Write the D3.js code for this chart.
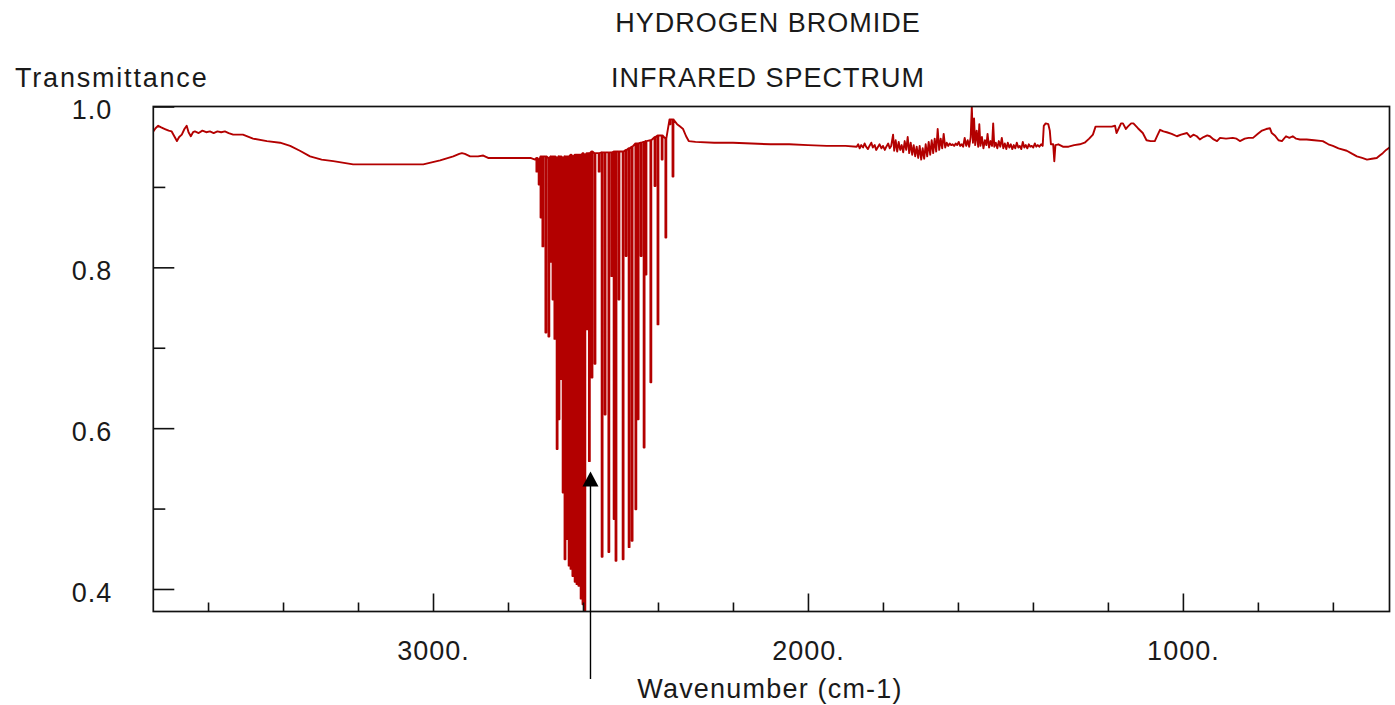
<!DOCTYPE html>
<html><head><meta charset="utf-8">
<script src="https://cdn.jsdelivr.net/npm/d3@7"></script>
<style>
html,body{margin:0;padding:0;background:#fff;}
svg{display:block;}
text{font-family:"Liberation Sans",Arial,sans-serif;fill:#1a1a1a;}
</style></head><body>
<svg id="chart" width="1395" height="705"></svg>
<script>
// ---- data (wavenumber in cm-1, transmittance) ----
const leftWn = [3746,3740,3733,3725,3715,3705,3697,3690,3683,3677,3670,3663,3657,3652,3646,3640,3635,3625,3615,3605,3595,3585,3575,3565,3555,3545,3533,3507,3480,3443,3408,3381,3355,3328,3297,3266,3213,3120,3026,2981,2946,2930,2923,2915,2901,2880,2866,2853,2800,2740,2728];
const leftT  = [0.969,0.973,0.976,0.974,0.972,0.970,0.969,0.963,0.957,0.962,0.965,0.972,0.976,0.968,0.963,0.968,0.969,0.967,0.970,0.968,0.969,0.967,0.969,0.968,0.969,0.967,0.965,0.965,0.960,0.957,0.955,0.951,0.945,0.938,0.934,0.932,0.928,0.928,0.928,0.933,0.938,0.941,0.942,0.941,0.938,0.938,0.939,0.936,0.936,0.936,0.934];

// HBr fundamental band: rotational lines (centre, local top, line minimum)
const bandWn     = [2723,2717,2712,2707,2699,2691,2685,2680,2675,2669,2664,2659,2653,2648,2643,2637,2632,2627,2621,2616,2611,2605,2600,2595,2589,2583,2576,2568,2557,2549,2541,2531,2523,2517,2512,2504,2493,2485,2477,2469,2459,2453,2445,2437,2432,2419,2408,2400,2389,2379,2368,2360];
const bandTop    = [0.936,0.934,0.938,0.938,0.938,0.936,0.938,0.938,0.938,0.936,0.938,0.938,0.936,0.938,0.938,0.938,0.940,0.938,0.940,0.940,0.940,0.940,0.942,0.940,0.942,0.942,0.944,0.942,0.942,0.943,0.943,0.943,0.943,0.944,0.944,0.944,0.944,0.946,0.948,0.950,0.954,0.954,0.955,0.956,0.957,0.958,0.962,0.964,0.964,0.960,0.984,0.984];
const bandBottom = [0.919,0.903,0.862,0.826,0.719,0.714,0.807,0.760,0.711,0.574,0.611,0.661,0.520,0.437,0.462,0.429,0.425,0.416,0.409,0.406,0.404,0.388,0.381,0.373,0.723,0.559,0.663,0.680,0.919,0.440,0.617,0.446,0.789,0.487,0.435,0.760,0.437,0.814,0.452,0.460,0.499,0.611,0.814,0.576,0.791,0.657,0.901,0.729,0.934,0.837,0.978,0.913];

const rightWn = [2356,2349,2341,2333,2325,2318,2300,2250,2200,2150,2100,2050,2000,1950,1900,1870,
 1866,1862,1858,1853,1849,1845,1840,1836,1831,1827,1822,1818,1813,1809,1804,1800,1795,1791,1786,1782,1778,1773,1770,1766,1762,1758,1754,1750,1746,1742,1738,1734,1730,1726,1722,1718,1714,1710,1706,1702,1698,1694,1690,1686,1682,1678,1674,1670,1666,1662,1658,1654,1650,1646,1642,1638,1634,1630,1626,1622,1618,1614,1610,1606,1602,1598,1594,1590,1586,1582,1578,1574,1570,1566,1563,1560,1557,1554,1550,1546,1543,1540,1536,1532,1528,1524,1521,1517,1513,1509,1506,1503,1499,1495,1491,1487,1483,1479,1475,1471,1467,1463,1459,1455,1451,1447,1443,1439,1435,1431,1427,1423,1419,1415,1411,1407,1403,1399,1395,1391,1387,1383,1378,1374,
 1371,1366,1359,1355,1352,1346,1343,1340,1332,1320,1305,1290,1275,1262,1250,1240,1233,1221,1190,1181,1177,1172,1165,1160,1152,1147,1138,1132,1120,1107,1097,1086,1075,1068,1061,1052,1043,1030,1016,1005,989,980,972,963,955,945,935,928,918,909,901,885,867,857,848,835,825,813,800,789,778,768,763,755,745,736,725,716,707,698,688,670,650,627,612,600,585,563,548,536,522,509,496,483,475,467,458,449];
const rightT = [0.982,0.978,0.975,0.972,0.963,0.957,0.956,0.955,0.955,0.954,0.953,0.953,0.952,0.951,0.951,0.950,
 0.953,0.948,0.952,0.949,0.954,0.950,0.947,0.951,0.955,0.949,0.952,0.946,0.950,0.953,0.948,0.951,0.946,0.950,0.954,0.948,0.951,0.965,0.945,0.958,0.944,0.956,0.946,0.952,0.943,0.957,0.946,0.962,0.942,0.955,0.940,0.952,0.938,0.950,0.936,0.951,0.934,0.948,0.935,0.953,0.938,0.956,0.940,0.958,0.942,0.960,0.944,0.972,0.946,0.960,0.948,0.966,0.949,0.955,0.951,0.954,0.952,0.953,0.951,0.954,0.952,0.956,0.951,0.953,0.950,0.961,0.951,0.958,0.950,0.962,1.000,0.955,0.985,0.952,0.970,0.950,0.978,0.951,0.962,0.948,0.958,0.952,0.966,0.949,0.957,0.951,0.979,0.950,0.955,0.948,0.957,0.950,0.961,0.948,0.954,0.947,0.955,0.949,0.953,0.947,0.952,0.948,0.955,0.949,0.951,0.947,0.956,0.949,0.952,0.948,0.953,0.950,0.951,0.949,0.954,0.950,0.952,0.950,0.953,0.951,
 0.976,0.979,0.978,0.970,0.953,0.953,0.932,0.952,0.953,0.950,0.950,0.952,0.953,0.955,0.960,0.965,0.975,0.975,0.975,0.976,0.967,0.972,0.979,0.979,0.972,0.975,0.979,0.979,0.973,0.967,0.958,0.957,0.957,0.964,0.971,0.969,0.968,0.966,0.963,0.965,0.967,0.962,0.965,0.963,0.959,0.962,0.964,0.963,0.959,0.957,0.961,0.960,0.961,0.960,0.957,0.960,0.961,0.961,0.966,0.970,0.972,0.973,0.967,0.964,0.958,0.957,0.963,0.961,0.963,0.960,0.959,0.959,0.958,0.957,0.953,0.951,0.948,0.945,0.941,0.938,0.936,0.934,0.935,0.936,0.939,0.942,0.946,0.949];

const xMajorTicks = [3000, 2000, 1000];
const xMinorTicks = [3600,3400,3200,2800,2600,2400,2200,1800,1600,1400,1200,800,600];
const yMajorTicks = [1.0, 0.8, 0.6, 0.4];
const yMinorTicks = [0.9, 0.7, 0.5];
const arrowWn = 2580, arrowTipT = 0.546;
const titleLines = ["HYDROGEN BROMIDE", "INFRARED SPECTRUM"];
const yTitle = "Transmittance";
const xTitle = "Wavenumber (cm-1)";

// ---- layout ----
const L = 153.3, R = 1389.5, T = 106.5, B = 611.5;
const svg = d3.select("#chart");
const x = d3.scaleLinear().domain([3746, 449]).range([L, R]);
const y = d3.scaleLinear().domain([0.372, 1.0]).range([B, T]);
const FS = 27;

// spectrum trace
const pts = leftWn.map((w, i) => [w, leftT[i]]);
const hw = 1.2; // half width of a line drawn as a narrow stripe (cm-1)
bandWn.forEach((w, i) => {
  pts.push([w + hw, bandTop[i]], [w + hw, bandBottom[i]], [w - hw, bandBottom[i]], [w - hw, bandTop[i]]);
});
rightWn.forEach((w, i) => pts.push([w, rightT[i]]));

svg.append("clipPath").attr("id", "clip").append("rect")
  .attr("x", L).attr("y", T).attr("width", R - L).attr("height", B - T);

svg.append("path")
  .datum(pts)
  .attr("clip-path", "url(#clip)")
  .attr("fill", "none")
  .attr("stroke", "#b30000")
  .attr("stroke-width", 1.9)
  .attr("stroke-linejoin", "round")
  .attr("d", d3.line().x(d => x(d[0])).y(d => y(d[1])));

// frame
svg.append("rect").attr("x", L).attr("y", T).attr("width", R - L).attr("height", B - T)
  .attr("fill", "none").attr("stroke", "#111").attr("stroke-width", 1.7);

// x axis
const gxMin = svg.append("g").attr("transform", `translate(0,${B})`)
  .call(d3.axisBottom(x).tickValues(xMinorTicks).tickSizeInner(-9).tickSizeOuter(0).tickFormat(""));
const gxMaj = svg.append("g").attr("transform", `translate(0,${B})`)
  .call(d3.axisBottom(x).tickValues(xMajorTicks).tickSizeInner(-18).tickSizeOuter(0)
    .tickPadding(29).tickFormat(d => d + "."));
// y axis
const gyMin = svg.append("g").attr("transform", `translate(${L},0)`)
  .call(d3.axisLeft(y).tickValues(yMinorTicks).tickSizeInner(-12).tickSizeOuter(0).tickFormat(""));
const gyMaj = svg.append("g").attr("transform", `translate(${L},0)`)
  .call(d3.axisLeft(y).tickValues(yMajorTicks).tickSizeInner(-21).tickSizeOuter(0)
    .tickPadding(41).tickFormat(d3.format(".1f")));

[gxMin, gxMaj, gyMin, gyMaj].forEach(g => {
  g.select(".domain").remove();
  g.selectAll("line").attr("stroke", "#111").attr("stroke-width", 1.6);
  g.selectAll("text").attr("font-size", FS).attr("fill", "#1a1a1a")
    .attr("font-family", '"Liberation Sans", Arial, sans-serif').style("letter-spacing", "1px");
});
gxMaj.selectAll("text").attr("dy", "0.71em");
gyMaj.selectAll("text").attr("dy", "0.45em");

// arrow annotation
const ax = x(arrowWn), tipY = y(arrowTipT);
svg.append("line").attr("x1", ax).attr("x2", ax).attr("y1", tipY + 12).attr("y2", 679)
  .attr("stroke", "#000").attr("stroke-width", 1.4);
svg.append("path").attr("d", `M${ax},${tipY} L${ax - 8},${tipY + 15} L${ax + 8},${tipY + 15} Z`)
  .attr("fill", "#000");

// titles
svg.append("text").attr("x", 768).attr("y", 32).attr("text-anchor", "middle")
  .attr("font-size", FS).style("letter-spacing", "1px").text(titleLines[0]);
svg.append("text").attr("x", 768).attr("y", 87).attr("text-anchor", "middle")
  .attr("font-size", FS).style("letter-spacing", "1px").text(titleLines[1]);
svg.append("text").attr("x", 15).attr("y", 87).attr("text-anchor", "start")
  .attr("font-size", FS).style("letter-spacing", "1.8px").text(yTitle);
svg.append("text").attr("x", 770).attr("y", 698).attr("text-anchor", "middle")
  .attr("font-size", FS).style("letter-spacing", "1.2px").text(xTitle);
</script>
</body></html>
